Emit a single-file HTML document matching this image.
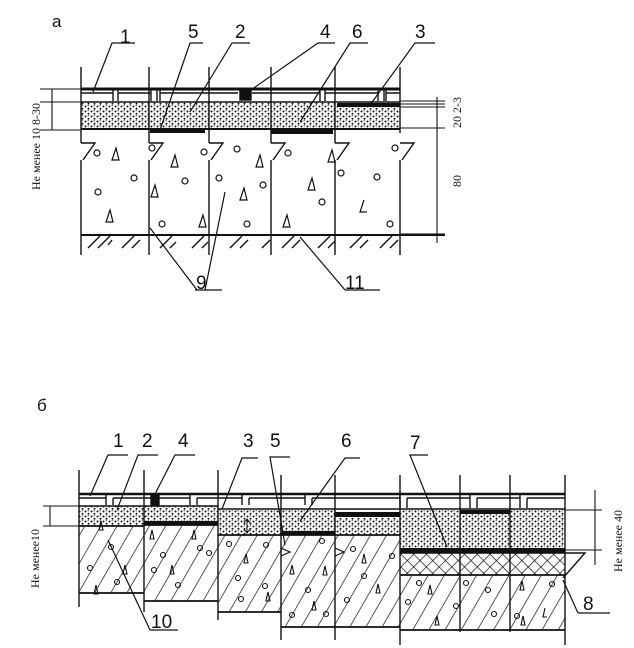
<!DOCTYPE html>
<html><head><meta charset="utf-8"><style>
html,body{margin:0;padding:0;background:#fff;}
svg{display:block;}
text{font-family:"Liberation Sans",sans-serif;fill:#111;}
.s{font-family:"Liberation Serif",serif;}
</style></head><body>
<svg width="634" height="648" viewBox="0 0 634 648" xmlns="http://www.w3.org/2000/svg">
<defs>
<pattern id="dots" width="6" height="5" patternUnits="userSpaceOnUse">
<rect width="6" height="5" fill="#fff"/>
<circle cx="1.5" cy="1.5" r="1" fill="#111"/><circle cx="4.5" cy="3.8" r="1" fill="#111"/><circle cx="4.2" cy="0.8" r="0.6" fill="#111"/>
</pattern>
<pattern id="hatch" width="14" height="14" patternUnits="userSpaceOnUse" patternTransform="rotate(30)">
<rect width="14" height="14" fill="#fff"/><line x1="0" y1="0" x2="0" y2="14" stroke="#111" stroke-width="1.4"/>
</pattern>
<pattern id="cross" width="9" height="9" patternUnits="userSpaceOnUse" patternTransform="rotate(45)">
<rect width="9" height="9" fill="#fff"/><line x1="0" y1="0" x2="0" y2="9" stroke="#111" stroke-width="1.4"/><line x1="0" y1="0" x2="9" y2="0" stroke="#111" stroke-width="1.4"/>
</pattern>
</defs>
<g stroke="#111" fill="none" stroke-width="1.4">
<!-- ===== TOP (а) ===== -->
<rect x="81" y="102" width="319" height="27" fill="url(#dots)" stroke="none"/>
<line x1="81" y1="89" x2="400" y2="89" stroke-width="3"/>
<line x1="81" y1="102" x2="400" y2="102"/>
<line x1="81" y1="129" x2="400" y2="129" stroke-width="2"/>
<path d="M113 90V101M118 90V101M151 90V101M157 90V101M160 90V101M320 90V101M325 90V101M378 90V101M384 90V101M386 90V101"/>
<path d="M81 93H113M118 93H151M160 93H238M252 93H320M325 93H378M386 93H400"/>
<rect x="240" y="89" width="11" height="11" fill="#111"/>
<rect x="150" y="129" width="55" height="4" fill="#111" stroke="none"/>
<rect x="271" y="129" width="62" height="5" fill="#111" stroke="none"/>
<rect x="337" y="103" width="63" height="4" fill="#111" stroke="none"/>
<path d="M81 67V133M81 160V255M81 143H95L83 160"/>
<path d="M149 67V133M149 160V255M149 143H163L151 160"/>
<path d="M209 67V133M209 160V255M209 143H223L211 160"/>
<path d="M271 67V133M271 160V255M271 143H285L273 160"/>
<path d="M335 67V133M335 160V255M335 143H349L337 160"/>
<path d="M400 67V133M400 143H414L402 160M400 160V255"/>
<path d="M81 133V143M149 133V143M209 133V143M271 133V143M335 133V143"/>
<line x1="81" y1="235" x2="445" y2="235" stroke-width="2"/>
<path d="M88 248L100 236M98 248L110 236M108 245L112 240M122 248L134 236M132 248L140 240M160 248L172 236M170 248L176 242M192 248L204 236M202 248L208 242M230 248L242 236M240 248L248 240M262 248L270 240M282 248L294 236M292 248L300 240M318 248L330 236M328 248L335 241M350 248L362 236M360 248L368 240M380 248L392 236M390 248L398 240"/>
<g stroke-width="1.2">
<circle cx="97" cy="153" r="3"/><circle cx="134" cy="178" r="3"/><circle cx="98" cy="192" r="3"/><circle cx="162" cy="224" r="3"/>
<circle cx="152" cy="148" r="3"/><circle cx="185" cy="181" r="3"/><circle cx="204" cy="152" r="3"/><circle cx="219" cy="178" r="3"/>
<circle cx="237" cy="149" r="3"/><circle cx="247" cy="224" r="3"/><circle cx="263" cy="185" r="3"/><circle cx="288" cy="153" r="3"/>
<circle cx="322" cy="202" r="3"/><circle cx="341" cy="173" r="3"/><circle cx="377" cy="177" r="3"/><circle cx="395" cy="148" r="3"/><circle cx="390" cy="224" r="3"/>
<path d="M116 148L112 160H119ZM110 210L106 222H113ZM175 155L171 167H178ZM155 185L151 197H158ZM203 215L199 227H206ZM260 155L256 167H263ZM244 188L240 200H247ZM332 150L328 162H335ZM312 178L308 190H315ZM287 215L283 227H290ZM364 200L360 212H367"/>
</g>
<path d="M135 43H112L93 92M203 43H190L160 130M250 43H232L190 112M335 43H318L248 92M368 43H350L300 122M435 43H415L370 105" stroke-width="1.2"/>
<path d="M197 290L150 228M205 290L225 192M195 290H222M345 290L300 237M345 290H380" stroke-width="1.2"/>
<path d="M52 89V130M40 89H81M40 102H81M40 130H81" stroke-width="1.1"/>
<path d="M437 97V243M400 101H445M400 104H445M400 107H445M400 128H445M400 234H445" stroke-width="1.1"/>

<!-- ===== BOTTOM (б) ===== -->
<rect x="79" y="526" width="65" height="67" fill="url(#hatch)" stroke="none"/>
<rect x="144" y="525" width="74" height="76" fill="url(#hatch)" stroke="none"/>
<rect x="218" y="535" width="63" height="77" fill="url(#hatch)" stroke="none"/>
<rect x="281" y="535" width="119" height="92" fill="url(#hatch)" stroke="none"/>
<rect x="400" y="575" width="165" height="55" fill="url(#hatch)" stroke="none"/>
<rect x="79" y="506" width="65" height="20" fill="url(#dots)" stroke="none"/>
<rect x="144" y="506" width="74" height="15" fill="url(#dots)" stroke="none"/>
<rect x="218" y="510" width="63" height="25" fill="url(#dots)" stroke="none"/>
<rect x="281" y="510" width="54" height="21" fill="url(#dots)" stroke="none"/>
<rect x="335" y="518" width="65" height="17" fill="url(#dots)" stroke="none"/>
<rect x="400" y="510" width="165" height="38" fill="url(#dots)" stroke="none"/>
<rect x="400" y="553" width="165" height="22" fill="url(#cross)" stroke="none"/>
<rect x="144" y="521" width="74" height="4" fill="#111" stroke="none"/>
<rect x="281" y="531" width="54" height="4" fill="#111" stroke="none"/>
<rect x="335" y="512" width="65" height="5" fill="#111" stroke="none"/>
<rect x="400" y="548" width="165" height="5" fill="#111" stroke="none"/>
<rect x="460" y="510" width="50" height="4" fill="#111" stroke="none"/>
<line x1="79" y1="494" x2="565" y2="494" stroke-width="2.5"/>
<path d="M79 498H106M113 498H190M197 498H242M249 498H305M312 498H400M407 498H470M477 498H520M527 498H565"/>
<path d="M106 495V505M113 498V505M190 495V505M197 498V505M242 495V505M249 498V505M305 495V505M312 498V505M400 495V508M407 498V508M470 495V508M477 498V508M520 495V508M527 498V508"/>
<rect x="151" y="494" width="8" height="11" fill="#111"/>
<path d="M79 506H218M218 509H565" stroke-width="1.4"/>
<path d="M79 526H144M144 525H218M218 535H400M400 575H565" stroke-width="1.8"/>
<path d="M400 553H565"/>
<path d="M565 553H585L563 578"/>
<path d="M79 593H144M144 601H218M218 612H281M281 627H400M400 630H565" stroke-width="1.8"/>
<path d="M79 470V607M144 470V612M218 470V620M281 475V640M335 475V640M400 475V645M460 475V632M510 475V632M565 475V645"/>
<path d="M281 548L290 552L281 556M335 548L344 552L335 556" stroke-width="1.2"/>
<g stroke-width="1.1">
<circle cx="111" cy="547" r="2.5"/><circle cx="90" cy="568" r="2.5"/><circle cx="117" cy="582" r="2.5"/><circle cx="163" cy="555" r="2.5"/><circle cx="154" cy="570" r="2.5"/><circle cx="200" cy="548" r="2.5"/><circle cx="178" cy="585" r="2.5"/><circle cx="209" cy="553" r="2.5"/>
<circle cx="229" cy="544" r="2.5"/><circle cx="238" cy="578" r="2.5"/><circle cx="266" cy="545" r="2.5"/><circle cx="265" cy="586" r="2.5"/><circle cx="241" cy="599" r="2.5"/>
<circle cx="322" cy="541" r="2.5"/><circle cx="308" cy="590" r="2.5"/><circle cx="292" cy="615" r="2.5"/><circle cx="326" cy="614" r="2.5"/><circle cx="353" cy="549" r="2.5"/><circle cx="364" cy="576" r="2.5"/><circle cx="347" cy="600" r="2.5"/><circle cx="392" cy="556" r="2.5"/>
<circle cx="419" cy="583" r="2.5"/><circle cx="408" cy="602" r="2.5"/><circle cx="456" cy="606" r="2.5"/><circle cx="466" cy="583" r="2.5"/><circle cx="488" cy="590" r="2.5"/><circle cx="494" cy="614" r="2.5"/><circle cx="517" cy="616" r="2.5"/><circle cx="552" cy="584" r="2.5"/>
<path d="M101 521L99 530H103ZM125 565L123 574H127ZM96 585L94 594H98ZM152 530L150 539H154ZM172 565L170 574H174ZM194 530L192 539H196ZM246 554L244 563H248ZM268 592L266 601H270ZM292 565L290 574H294ZM325 566L323 575H327ZM314 601L312 610H316ZM364 554L362 563H366ZM378 584L376 593H380ZM437 616L435 625H439ZM430 585L428 594H432ZM523 616L521 625H525ZM522 581L520 590H524ZM545 608L543 617H547"/>
</g>
<path d="M128 455H108L90 496M158 455H138L117 510M195 455H175L153 498M258 458H242L222 509M290 457H270L285 545M360 458H345L300 521M428 455H410L447 547" stroke-width="1.2"/>
<path d="M150 630L108 540M150 630H178M578 613L563 580M578 613H610" stroke-width="1.2"/>
<path d="M50 506V526M43 506H79M43 526H79" stroke-width="1.1"/>
<path d="M595 490V565M565 510H602M565 550H602" stroke-width="1.1"/>
<path d="M247 520L247 532M244 523L247 519L250 523M244 529L247 533L250 529" stroke-width="1"/>
</g>
<g font-size="19">
<text x="52" y="27" font-size="17">а</text>
<text x="120" y="43">1</text><text x="188" y="38">5</text><text x="235" y="38">2</text><text x="320" y="38">4</text><text x="352" y="38">6</text><text x="415" y="38">3</text>
<text x="196" y="289">9</text><text x="345" y="289">11</text>
<text x="37" y="411" font-size="17">б</text>
<text x="113" y="447">1</text><text x="142" y="447">2</text><text x="178" y="447">4</text><text x="243" y="447">3</text><text x="270" y="447">5</text><text x="341" y="447">6</text><text x="410" y="449">7</text>
<text x="151" y="628">10</text><text x="583" y="610">8</text>
</g>
<g class="s" font-size="12">
<text transform="translate(40,190) rotate(-90)" class="s">Не менее 10 8-30</text>
<text transform="translate(461,128) rotate(-90)" class="s">20 2-3</text>
<text transform="translate(461,187) rotate(-90)" class="s">80</text>
<text transform="translate(39,588) rotate(-90)" class="s">Не менее10</text>
<text transform="translate(622,572) rotate(-90)" class="s">Не менее 40</text>
</g>
</svg>
</body></html>
